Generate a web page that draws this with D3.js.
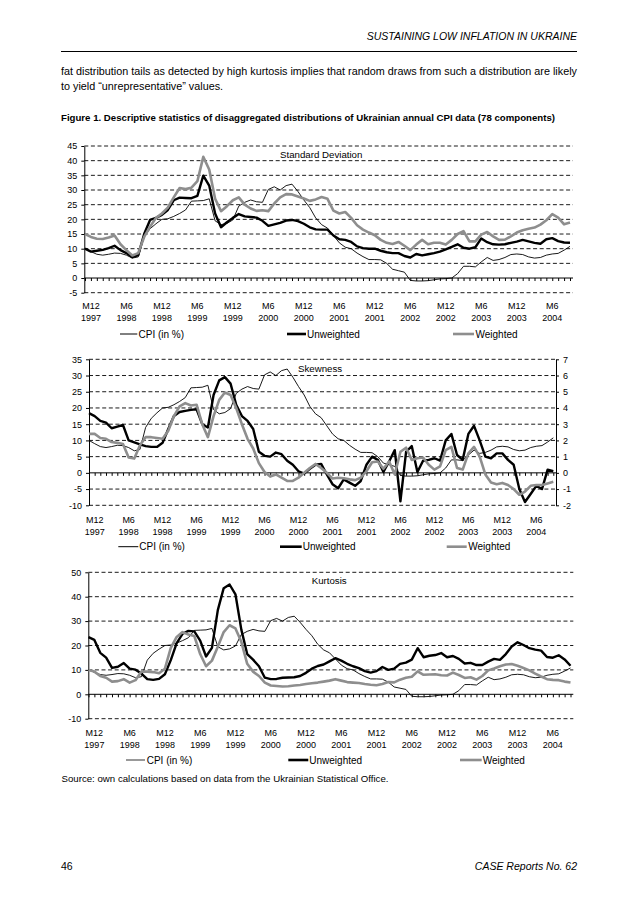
<!DOCTYPE html>
<html><head><meta charset="utf-8">
<script src="https://cdn.jsdelivr.net/npm/d3@7"></script>
<style>
body{margin:0;background:#fff}
svg{display:block}
text{font-family:"Liberation Sans",Arial,Helvetica,sans-serif;fill:#000}
</style></head>
<body><svg id="c" width="638" height="903"></svg>
<script>
// ---------- DATA ----------
const categories = [
 "M11 1997","M12 1997",
 "M1 1998","M2 1998","M3 1998","M4 1998","M5 1998","M6 1998","M7 1998","M8 1998","M9 1998","M10 1998","M11 1998","M12 1998",
 "M1 1999","M2 1999","M3 1999","M4 1999","M5 1999","M6 1999","M7 1999","M8 1999","M9 1999","M10 1999","M11 1999","M12 1999",
 "M1 2000","M2 2000","M3 2000","M4 2000","M5 2000","M6 2000","M7 2000","M8 2000","M9 2000","M10 2000","M11 2000","M12 2000",
 "M1 2001","M2 2001","M3 2001","M4 2001","M5 2001","M6 2001","M7 2001","M8 2001","M9 2001","M10 2001","M11 2001","M12 2001",
 "M1 2002","M2 2002","M3 2002","M4 2002","M5 2002","M6 2002","M7 2002","M8 2002","M9 2002","M10 2002","M11 2002","M12 2002",
 "M1 2003","M2 2003","M3 2003","M4 2003","M5 2003","M6 2003","M7 2003","M8 2003","M9 2003","M10 2003","M11 2003","M12 2003",
 "M1 2004","M2 2004","M3 2004","M4 2004","M5 2004","M6 2004","M7 2004","M8 2004","M9 2004"];

const tickLabels = ["M12 1997","M6 1998","M12 1998","M6 1999","M12 1999","M6 2000","M12 2000",
 "M6 2001","M12 2001","M6 2002","M12 2002","M6 2003","M12 2003","M6 2004"];

const seriesNames = ["CPI (in %)","Unweighted","Weighted"];

const cpi = [10,9,8.1,7.8,8.1,8.5,8.4,7.8,6.8,7.2,
 14,16.8,18.5,20,20.2,21,22,23.2,26.2,26.3,
 26.4,27,19.5,18.2,18.6,19.8,24.5,25.8,26.6,26,
 25.8,30.2,31.1,30,31.5,32,29.5,26.6,24,20.5,
 18.2,17,14.5,12,10.5,10,8.5,7.3,6.3,6.3,
 6.2,5,3,2.5,2,-0.8,-1,-1,-0.9,-0.6,
 -0.3,-0.2,0,1.5,4,4,3.8,5.5,7,6,
 6.3,7,8,8.2,8,7.2,6.8,7,7.8,8.2,
 8.4,9.5,10.8];

const sdUnweighted = [10,9,9.3,9.6,10.2,11,9.5,8.5,7.1,7.8,
 15,19.8,20.5,21.5,23.2,26.5,27.4,27.3,27.2,28,
 34.9,31.5,22,17.3,19,20.5,21.8,21,20.8,20.6,
 19.5,17.8,18.3,18.8,19.6,19.8,19.4,18.5,17.3,16.6,
 16.5,16.5,14.5,13.2,13,12.3,10.8,10.2,10,10,
 9.3,8.8,8.5,8.5,7.5,7,8.2,7.7,8.1,8.5,
 9,9.8,10.6,11.5,10.3,10,10.5,13.5,12.2,11.5,
 11.4,11.5,12,12.4,13,12.5,12,11.7,13.2,13.6,
 12.6,12.1,12];

const sdWeighted = [15,14,13.4,13.3,13.8,14.5,11.5,9.5,7.7,8.5,
 14,17.5,20.5,22,24,27.5,30.7,30.3,30.8,33,
 41.3,37,27,22.8,24.5,26.5,27.5,25,23.7,22.9,
 23.1,22.8,25.4,27.5,28.6,28.5,27.8,27.1,26.3,26.8,
 27.6,27,23,22,22.5,20.5,18,16.5,15.5,14.6,
 13,12,11.6,12.3,11,9.5,11.4,13,11.5,12,
 12,11.4,13,15,16,12.5,12.5,14.8,15.7,14.2,
 13,13.1,14.2,15.5,16.3,16.8,17.2,18.2,19.7,21.8,
 20.6,18.3,18.9];

// skewness values (right axis)
const skewUnweighted = [3.68,3.5,3.2,3.1,2.75,2.85,2.95,2.0,1.88,1.75,
 1.65,1.6,1.6,1.85,2.7,3.5,3.75,3.82,3.88,3.92,
 3.0,2.8,4.8,5.7,5.9,5.5,4.2,3.5,3.2,2.7,
 1.3,1.05,1.0,1.25,1.15,0.75,0.5,0.1,-0.05,0.25,
 0.5,0.55,-0.1,-0.7,-0.95,-0.4,-0.6,-0.8,-0.5,0.5,
 1.0,0.8,0.05,0.7,1.4,-1.75,1.3,1.65,0.05,0.75,
 0.8,0.9,0.75,2.0,2.4,1.1,0.8,2.4,2.9,2.0,
 1.0,0.9,1.2,1.2,0.8,0.5,-1.0,-1.8,-1.3,-0.8,
 -1.0,0.2,0.1];

const skewWeighted = [2.4,2.4,2.15,2.1,1.9,1.85,1.78,0.95,0.88,1.7,
 2.2,2.2,2.15,2.1,2.6,3.5,4.1,4.3,4.15,4.2,
 3.0,2.2,3.5,4.5,4.95,4.8,4.0,3.0,2.1,1.5,
 0.6,0.05,-0.23,-0.1,-0.3,-0.5,-0.5,-0.3,0.0,0.3,
 0.55,0.3,0.0,-0.35,-0.3,-0.33,-0.4,-0.45,-0.3,0.1,
 0.65,0.7,0.25,0.7,-0.1,1.3,1.55,0.8,0.9,0.95,
 0.5,0.2,0.4,1.4,1.6,0.3,0.2,1.2,1.6,1.0,
 -0.1,-0.6,-0.7,-0.62,-0.75,-1.0,-1.35,-1.15,-0.8,-0.75,
 -0.75,-0.65,-0.55];

const kurtUnweighted = [23.4,22.3,17,15,10.8,11.3,12.8,10.5,10.1,8.5,
 6.2,5.9,6.3,8.2,14,21,24.8,26,25.8,22,
 15.5,19,34.5,43.5,45,41,26.5,16.5,14.2,11.5,
 6.8,6.2,6.3,6.8,6.9,7,7.5,8.8,10.5,11.6,
 12.2,13.5,14.8,13.8,12.5,11.5,10.7,9.5,8.9,9.5,
 11.2,10,10.5,12.5,13,14.2,18.9,15.2,15.8,16.1,
 16.9,15.2,15.7,14.5,12.6,12.9,12,12,13.4,14.5,
 14.1,16.5,19.6,21.3,20.2,18.9,18.3,17.9,15.3,15,
 16,14.3,11.7];

const kurtWeighted = [10,9.3,7.5,6.8,5.2,5.4,6.2,4.8,5.8,9.3,
 9.3,9.1,8.6,10.5,19,23.5,25.5,24.5,23.9,16.5,
 11.5,13.8,19.5,25.5,28.3,27,21.5,12.5,9.3,7.5,
 4.8,3.6,3.4,3.2,3.3,3.6,3.8,4.2,4.5,4.8,
 5.2,5.6,6.2,5.6,5,4.8,4.6,4.2,3.9,3.7,
 4.2,5,4.9,6,6.8,7.2,9.4,8,8.1,8.2,
 7.8,7.7,8.9,7.9,6.7,7,6,7.5,9.8,10.6,
 11.5,12.2,12.4,11.7,10.8,9.8,8.5,7.3,6.2,5.9,
 5.8,5.2,4.8];

// ---------- DRAWING ----------
const svg = d3.select("#c");
const GRAY = "#8e8e8e";

// header
svg.append("text").attr("x",577).attr("y",40.3).attr("text-anchor","end")
  .attr("font-size",10.5).attr("font-style","italic").text("SUSTAINING LOW INFLATION IN UKRAINE");
svg.append("line").attr("x1",61).attr("x2",577).attr("y1",51.5).attr("y2",51.5)
  .attr("stroke","#000").attr("stroke-width",1);
svg.append("text").attr("x",61).attr("y",74.5).attr("font-size",10.8)
  .attr("textLength",516).attr("lengthAdjust","spacing")
  .text("fat distribution tails as detected by high kurtosis implies that random draws from such a distribution are likely");
svg.append("text").attr("x",61).attr("y",89.5).attr("font-size",10.8)
  .text("to yield \u201cunrepresentative\u201d values.");
svg.append("text").attr("x",61).attr("y",121).attr("font-size",9.6).attr("font-weight","bold")
  .attr("textLength",494).attr("lengthAdjust","spacingAndGlyphs")
  .text("Figure 1. Descriptive statistics of disaggregated distributions of Ukrainian annual CPI data (78 components)");

function drawPanel(p) {
  const g = svg.append("g");
  const x = d3.scalePoint().domain(categories).range([p.x0, p.x1]);
  const y = d3.scaleLinear().domain(p.yDomain).range([p.yBottom, p.yTop]);
  const yR = p.yRDomain ? d3.scaleLinear().domain(p.yRDomain).range([p.yBottom, p.yTop]) : null;
  const ticks = d3.range(p.yDomain[0], p.yDomain[1] + 0.001, p.step);

  // dashed gridlines
  g.append("g").selectAll("line").data(ticks.filter(t => t !== 0)).join("line")
    .attr("x1", p.axisX).attr("x2", p.gridEnd)
    .attr("y1", d => y(d)).attr("y2", d => y(d))
    .attr("stroke", "#000").attr("stroke-width", 0.9).attr("stroke-dasharray", "4,2.6");

  // left axis
  const la = g.append("g").attr("transform", `translate(${p.axisX},0)`)
    .call(d3.axisLeft(y).tickValues(ticks).tickSize(3).tickSizeOuter(0).tickPadding(4).tickFormat(d => String(d)));
  la.selectAll("text").attr("font-size", 9).attr("font-family", null);
  la.selectAll("path,line").attr("stroke", "#000");

  // right axis
  if (yR) {
    const ra = g.append("g").attr("transform", `translate(${p.gridEnd},0)`)
      .call(d3.axisRight(yR).tickValues(d3.range(p.yRDomain[0], p.yRDomain[1] + 1)).tickSize(3).tickSizeOuter(0).tickPadding(4).tickFormat(d => String(d)));
    ra.selectAll("text").attr("font-size", 9).attr("font-family", null);
    ra.selectAll("path,line").attr("stroke", "#000");
  }

  // zero category axis with small ticks
  g.append("line").attr("x1", p.axisX).attr("x2", p.gridEnd).attr("y1", y(0)).attr("y2", y(0))
    .attr("stroke", "#000").attr("stroke-width", 1);
  const xa = g.append("g").attr("transform", `translate(0,${y(0)})`)
    .call(d3.axisBottom(x).tickSize(3).tickSizeOuter(0).tickFormat(""));
  xa.select(".domain").remove();
  xa.selectAll("line").attr("stroke", "#000");

  // category labels (two lines)
  const lab = g.append("g").selectAll("text").data(tickLabels).join("text")
    .attr("text-anchor", "middle").attr("font-size", 9);
  lab.append("tspan").attr("x", d => x(d)).attr("y", p.labY1 + 3.2).text(d => d.split(" ")[0]);
  lab.append("tspan").attr("x", d => x(d)).attr("y", p.labY2 + 3.2).text(d => d.split(" ")[1]);

  // series
  p.series.forEach(s => {
    const sc = s.right ? yR : y;
    g.append("path").datum(s.values)
      .attr("fill", "none").attr("stroke", s.color).attr("stroke-width", s.width)
      .attr("stroke-linejoin", "round")
      .attr("d", d3.line().x((d, i) => x(categories[i])).y(d => sc(d)));
  });

  // panel title
  g.append("text").attr("x", p.titleX).attr("y", p.titleY).attr("font-size", 9.7).text(p.title);

  // legend
  p.legend.forEach((l, k) => {
    g.append("line").attr("x1", l.x1).attr("x2", l.x2).attr("y1", p.legY).attr("y2", p.legY)
      .attr("stroke", l.color).attr("stroke-width", l.width);
    g.append("text").attr("x", l.tx).attr("y", p.legY + 3.5).attr("font-size", 10).text(seriesNames[k]);
  });
}

drawPanel({
  x0: 85, x1: 570, axisX: 84.3, gridEnd: 573,
  yDomain: [-5, 45], step: 5, yTop: 146, yBottom: 292.7,
  labY1: 305.7, labY2: 317.7, legY: 334,
  title: "Standard Deviation", titleX: 280, titleY: 157.5,
  series: [
    {values: cpi, color: "#000", width: 0.9},
    {values: sdUnweighted, color: "#000", width: 2.4},
    {values: sdWeighted, color: GRAY, width: 2.6}
  ],
  legend: [
    {x1: 120, x2: 137.3, tx: 138.5, color: "#000", width: 1},
    {x1: 287, x2: 306, tx: 307, color: "#000", width: 2.6},
    {x1: 453, x2: 474, tx: 475.5, color: GRAY, width: 2.6}
  ]
});

drawPanel({
  x0: 89, x1: 553.3, axisX: 89, gridEnd: 556,
  yDomain: [-10, 35], step: 5, yTop: 359.3, yBottom: 505.3, yRDomain: [-2, 7],
  labY1: 519.3, labY2: 532, legY: 546.7,
  title: "Skewness", titleX: 298, titleY: 371.5,
  series: [
    {values: cpi, color: "#000", width: 0.9},
    {values: skewUnweighted, color: "#000", width: 2.4, right: true},
    {values: skewWeighted, color: GRAY, width: 2.6, right: true}
  ],
  legend: [
    {x1: 118.3, x2: 138.3, tx: 139.3, color: "#000", width: 1},
    {x1: 280, x2: 301.7, tx: 302.7, color: "#000", width: 2.6},
    {x1: 446.7, x2: 466.7, tx: 468.3, color: GRAY, width: 2.6}
  ]
});

drawPanel({
  x0: 88.5, x1: 570.5, axisX: 88.3, gridEnd: 573.3,
  yDomain: [-10, 50], step: 10, yTop: 572.3, yBottom: 718.7,
  labY1: 732.7, labY2: 745, legY: 760,
  title: "Kurtosis", titleX: 311.7, titleY: 584,
  series: [
    {values: cpi, color: "#000", width: 0.9},
    {values: kurtUnweighted, color: "#000", width: 2.4},
    {values: kurtWeighted, color: GRAY, width: 2.6}
  ],
  legend: [
    {x1: 126, x2: 145, tx: 146.7, color: GRAY, width: 1.8},
    {x1: 288.3, x2: 308.3, tx: 309.3, color: "#000", width: 2.6},
    {x1: 460, x2: 481.7, tx: 482.7, color: GRAY, width: 2.6}
  ]
});

// source & footer
svg.append("text").attr("x",61.5).attr("y",781.5).attr("font-size",9.6)
  .attr("textLength",327).attr("lengthAdjust","spacingAndGlyphs")
  .text("Source: own calculations based on data from the Ukrainian Statistical Office.");
svg.append("text").attr("x",61).attr("y",869.5).attr("font-size",10.5).text("46");
svg.append("text").attr("x",577).attr("y",869.5).attr("text-anchor","end")
  .attr("font-size",10.5).attr("font-style","italic").text("CASE Reports No. 62");
</script>
</body></html>
